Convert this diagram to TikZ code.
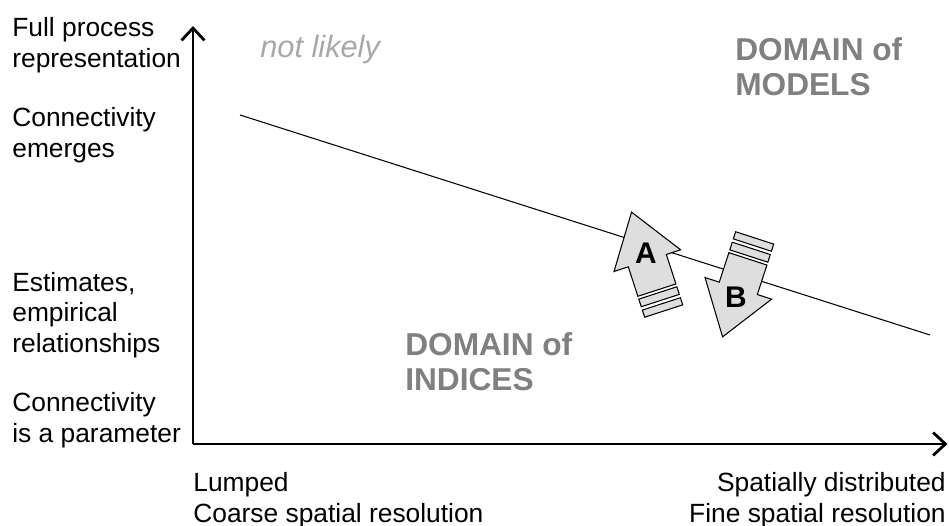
\documentclass[tikz,border=0pt]{standalone}
\usepackage{fontspec}
\setmainfont{Liberation Sans}
\usepackage{tikz}
\usetikzlibrary{arrows.meta}

\definecolor{domaingray}{gray}{0.5}
\definecolor{faintgray}{gray}{0.66}
\definecolor{arrowgray}{gray}{0.87}

\tikzset{
  axislabel/.style={align=left, inner sep=0pt, font=\fontsize{15}{17.5}\selectfont},
  domainlabel/.style={align=left, inner sep=0pt, text=domaingray, font=\fontsize{18}{20}\selectfont\bfseries},
  arrowpart/.style={fill=arrowgray, draw=black, line width=0.6pt, line join=miter},
  axisline/.style={line width=1.6pt, -{Straight Barb[length=7pt,width=13pt,line width=1.6pt]}}
}

\begin{document}
\begin{tikzpicture}
\useasboundingbox (0,0) rectangle (18.98,10.52);

% axes
\coordinate (origin) at (3.86,1.64) ;
\coordinate (ytop) at (3.86,10.0) ;
\coordinate (xend) at (18.95,1.64) ;
\draw[axisline] (origin) -- (ytop) ;
\draw[axisline] (origin) -- (xend) ;

% boundary between the two domains
\coordinate (bstart) at (4.8,8.22) ;
\coordinate (bend) at (18.6,3.82) ;
\draw[line width=0.6pt] (bstart) -- (bend) ;

% vertical axis labels
\node[axislabel, anchor=west] (full) at (0.24,9.62) {Full process\\representation} ;
\node[axislabel, anchor=west] (emerges) at (0.24,7.82) {Connectivity\\emerges} ;
\node[axislabel, anchor=west] (estimates) at (0.24,4.22) {Estimates,\\empirical\\relationships} ;
\node[axislabel, anchor=west] (param) at (0.24,2.12) {Connectivity\\is a parameter} ;

% horizontal axis labels
\node[axislabel, anchor=west] (lumped) at (3.86,0.52) {Lumped\\Coarse spatial resolution} ;
\node[axislabel, anchor=east, align=right] (distributed) at (18.92,0.52) {Spatially distributed\\Fine spatial resolution} ;

% domains
\node[anchor=west, inner sep=0pt, text=faintgray, font=\fontsize{17.5}{20}\selectfont\itshape] (notlikely) at (5.2,9.52) {not likely} ;
\node[domainlabel, anchor=west] (models) at (14.7,9.18) {DOMAIN of\\MODELS} ;
\node[domainlabel, anchor=west] (indices) at (8.1,3.28) {DOMAIN of\\INDICES} ;

% striped arrows A and B
\foreach \px/\py/\ang in {13.28/4.28/18, 15.1/5.78/162} {
  \begin{scope}[shift={(\px,\py)}, rotate=\ang]
    \filldraw[arrowpart] (-0.4,0.46) -- (-0.4,1.08) -- (-0.7,1.08) -- (0,2.1)
      -- (0.7,1.08) -- (0.4,1.08) -- (0.4,0.46) -- cycle ;
    \filldraw[arrowpart] (-0.4,0.24) rectangle (0.4,0.40) ;
    \filldraw[arrowpart] (-0.4,0.02) rectangle (0.4,0.17) ;
  \end{scope}
}
\node[font=\fontsize{17}{20}\selectfont\bfseries] (labA) at (12.92,5.46) {A} ;
\node[font=\fontsize{17}{20}\selectfont\bfseries] (labB) at (14.72,4.58) {B} ;

\end{tikzpicture}
\end{document}
